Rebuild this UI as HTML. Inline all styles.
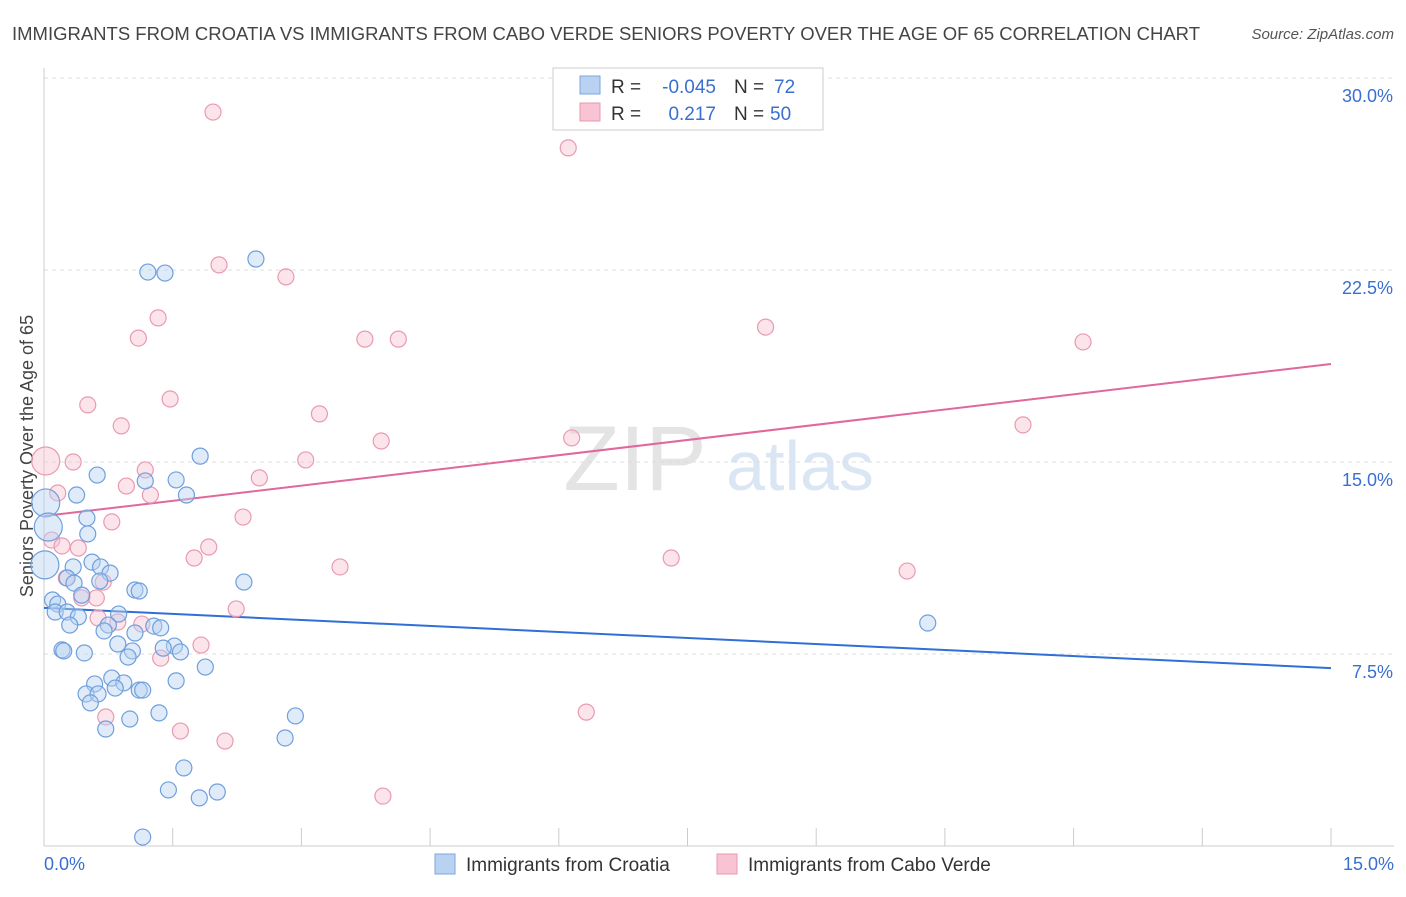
<!DOCTYPE html>
<html><head><meta charset="utf-8">
<style>
body{margin:0;background:#fff;font-family:"Liberation Sans",sans-serif;}
svg text{font-family:"Liberation Sans",sans-serif;}
</style></head>
<body>
<svg id="chart" width="1406" height="892" viewBox="0 0 1406 892" xmlns="http://www.w3.org/2000/svg">
<text x="12" y="40" font-size="18" fill="#444" textLength="1188" lengthAdjust="spacingAndGlyphs">IMMIGRANTS FROM CROATIA VS IMMIGRANTS FROM CABO VERDE SENIORS POVERTY OVER THE AGE OF 65 CORRELATION CHART</text>
<text x="1394" y="39" font-size="15" fill="#555" font-style="italic" text-anchor="end">Source: ZipAtlas.com</text>
<text transform="translate(33,456) rotate(-90)" font-size="18" fill="#444" text-anchor="middle">Seniors Poverty Over the Age of 65</text>
<g>
<text x="635" y="490" font-size="92" fill="#e4e4e4" font-family="Liberation Serif" text-anchor="middle">ZIP</text>
<text x="800" y="490" font-size="70" fill="#dbe6f4" text-anchor="middle">atlas</text>
</g>
<g id="grid"></g><g id="axes"></g><g id="lines"></g><g id="points"></g>
<g>
<rect x="553" y="68" width="270" height="62" fill="#fff" stroke="#ccc"/>
<rect x="580" y="76" width="20" height="18" fill="#b9d2f2" stroke="#7aa5dd"/>
<rect x="580" y="103" width="20" height="18" fill="#f8c3d3" stroke="#e99ab2"/>
<text x="611" y="93" font-size="19" fill="#333">R =</text>
<text x="716" y="93" font-size="19" fill="#3a6fd0" text-anchor="end">-0.045</text>
<text x="734" y="93" font-size="19" fill="#333">N =</text>
<text x="774" y="93" font-size="19" fill="#3a6fd0">72</text>
<text x="611" y="120" font-size="19" fill="#333">R =</text>
<text x="716" y="120" font-size="19" fill="#3a6fd0" text-anchor="end">0.217</text>
<text x="734" y="120" font-size="19" fill="#333">N =</text>
<text x="770" y="120" font-size="19" fill="#3a6fd0">50</text>
</g>
<g>
<rect x="435" y="854" width="20" height="20" fill="#b9d2f2" stroke="#7aa5dd"/>
<text x="466" y="871" font-size="19" fill="#333">Immigrants from Croatia</text>
<rect x="717" y="854" width="20" height="20" fill="#f8c3d3" stroke="#e99ab2"/>
<text x="748" y="871" font-size="19" fill="#333">Immigrants from Cabo Verde</text>
</g>
</svg>
<script>
const yTicks=[7.5,15,22.5,30];
const yTickLabels=["7.5%","15.0%","22.5%","30.0%"];
const xTickLabels=["0.0%","15.0%"];
const croatiaX=[1.21,1.41,2.47,1.82,0.62,1.54,0.38,1.66,1.18,0.50,0.51,0.56,0.34,0.66,0.77,0.27,0.35,0.65,2.33,1.06,1.11,0.44,0.10,0.16,0.13,0.27,0.40,0.30,0.87,0.75,1.28,1.36,0.70,1.06,1.52,0.21,0.23,0.47,0.86,1.39,1.03,1.59,0.98,1.88,0.79,0.93,0.59,1.54,0.83,1.11,0.49,0.63,1.15,0.54,1.34,2.93,1.00,0.72,2.81,1.63,1.45,1.81,2.02,1.15,10.30,0.02,0.05,0.01];
const croatiaY=[22.42,22.38,22.93,15.23,14.49,14.30,13.71,13.71,14.26,12.81,12.19,11.09,10.90,10.90,10.66,10.47,10.27,10.35,10.31,10.00,9.96,9.80,9.61,9.45,9.14,9.14,8.95,8.63,9.06,8.63,8.59,8.52,8.40,8.32,7.81,7.66,7.62,7.54,7.89,7.73,7.62,7.58,7.38,6.99,6.56,6.37,6.33,6.45,6.17,6.09,5.94,5.94,6.09,5.59,5.20,5.08,4.96,4.57,4.22,3.05,2.19,1.88,2.11,0.35,8.71,13.40,12.46,10.98];
const croatiaBig=[0,0,0,0,0,0,0,0,0,0,0,0,0,0,0,0,0,0,0,0,0,0,0,0,0,0,0,0,0,0,0,0,0,0,0,0,0,0,0,0,0,0,0,0,0,0,0,0,0,0,0,0,0,0,0,0,0,0,0,0,0,0,0,0,0,1,1,1];
const caboX=[1.97,6.11,2.04,2.82,1.33,8.41,1.10,3.74,4.13,12.11,1.47,0.51,3.21,0.90,11.41,3.93,6.15,0.02,0.34,3.05,1.18,2.51,0.96,0.16,1.24,2.32,0.79,0.09,0.21,0.40,1.92,1.75,7.31,3.45,10.06,0.26,0.69,0.44,0.61,2.24,0.63,0.86,1.14,1.83,1.36,0.72,6.32,1.59,2.11,3.95];
const caboY=[28.67,27.27,22.70,22.23,20.63,20.27,19.84,19.80,19.80,19.69,17.46,17.23,16.88,16.41,16.45,15.82,15.94,15.04,15.00,15.08,14.69,14.38,14.06,13.79,13.71,12.85,12.66,11.95,11.72,11.64,11.68,11.25,11.25,10.90,10.74,10.47,10.31,9.69,9.69,9.26,8.91,8.75,8.67,7.85,7.34,5.04,5.23,4.49,4.10,1.95];
const caboBig=[0,0,0,0,0,0,0,0,0,0,0,0,0,0,0,0,0,1,0,0,0,0,0,0,0,0,0,0,0,0,0,0,0,0,0,0,0,0,0,0,0,0,0,0,0,0,0,0,0,0];
const croatiaTrend=[9.30,6.95];
const caboTrend=[12.89,18.83];
const xDomain=[0,15];

const NS="http://www.w3.org/2000/svg";
const X0=44,X1=1331,Y0=846,PPU=25.6;
function sx(v){return X0+(v-xDomain[0])/(xDomain[1]-xDomain[0])*(X1-X0);}
function sy(v){return Y0-v*PPU;}
function mk(tag,attrs,parent){const e=document.createElementNS(NS,tag);for(const k in attrs)e.setAttribute(k,attrs[k]);parent.appendChild(e);return e;}
const grid=document.getElementById('grid'),axes=document.getElementById('axes'),lines=document.getElementById('lines'),pts=document.getElementById('points');
yTicks.forEach((t,i)=>{
 const l=mk('line',{x1:X0,x2:1394,y1:sy(t),y2:sy(t),stroke:'#ddd','stroke-dasharray':'4,4'},grid);
 
 
 const tx=mk('text',{x:1393,y:sy(t)+24,'font-size':18,fill:'#3a6fd0','text-anchor':'end'},axes);
 tx.textContent=yTickLabels[i];
 
 
});
const ya=mk('line',{x1:X0,x2:X0,y1:68,y2:Y0,stroke:'#ccc'},axes);


const xa=mk('line',{x1:X0,x2:1394,y1:Y0,y2:Y0,stroke:'#ccc'},axes);


for(let i=0;i<=10;i++){
 const v=xDomain[0]+i*(xDomain[1]-xDomain[0])/10;
 const t=mk('line',{x1:sx(v),x2:sx(v),y1:Y0,y2:Y0-18,stroke:'#ccc'},axes);
 
 
}
xTickLabels.forEach((s,i)=>{
 const tx=mk('text',{x:i?1394:44,y:870,'font-size':18,fill:'#3a6fd0','text-anchor':i?'end':'start'},axes);
 tx.textContent=s;
 
 
});
function drawPts(xs,ys,big,fill,stroke,name){
 xs.forEach((x,i)=>{
  const c=mk('circle',{cx:sx(x),cy:sy(ys[i]),r:big[i]?14:8,fill:fill,'fill-opacity':0.45,stroke:stroke,'stroke-width':1.2},pts);
  
  
 });
}
drawPts(caboX,caboY,caboBig,'#f8c3d3','#e99ab2','caboverde-point');
drawPts(croatiaX,croatiaY,croatiaBig,'#b9d2f2','#6f9fdc','croatia-point');
const bl=mk('line',{x1:sx(xDomain[0]),y1:sy(croatiaTrend[0]),x2:sx(xDomain[1]),y2:sy(croatiaTrend[1]),stroke:'#2f6fd6','stroke-width':2},lines);


const pl=mk('line',{x1:sx(xDomain[0]),y1:sy(caboTrend[0]),x2:sx(xDomain[1]),y2:sy(caboTrend[1]),stroke:'#e0689a','stroke-width':2},lines);


</script>
</body></html>
